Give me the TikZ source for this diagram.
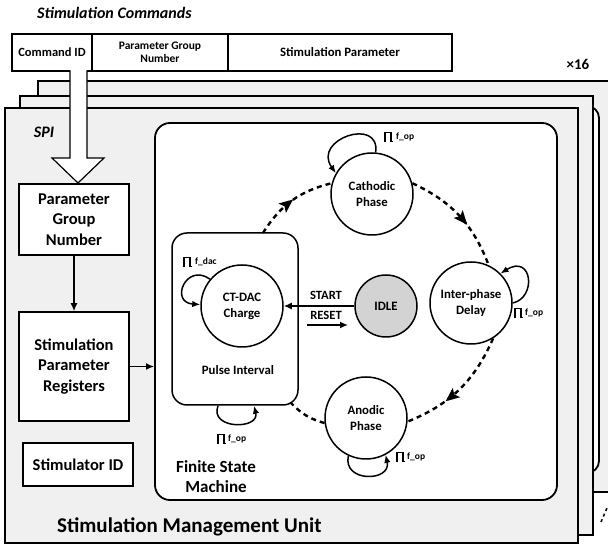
\documentclass[tikz,border=0pt]{standalone}
\usepackage{fontspec}
\setmainfont{Carlito}
\usetikzlibrary{arrows.meta,decorations.markings,calc}
\definecolor{lgray}{HTML}{F0F0F0}
\definecolor{idlegray}{HTML}{D3D3D3}
\tikzset{
  layer/.style={draw, line width=2.2pt, fill=lgray},
  cellbox/.style={draw, line width=1.5pt, fill=white, inner sep=0pt, align=center},
  regbox/.style={draw, line width=1.5pt, fill=white, inner sep=0pt, align=center, font=\fontsize{16.5}{20.5}\selectfont\bfseries},
  state/.style={circle, draw, line width=1.5pt, fill=white, minimum size=82pt, inner sep=0pt, align=center, font=\fontsize{12.8}{16}\selectfont\bfseries},
  dashflow/.style={line width=2.4pt, dash pattern=on 5pt off 4pt},
  midarrow/.style={postaction={decorate}, decoration={markings, mark=at position #1 with {\fill[solid] (6,0) -- (-8,6) -- (-5,0) -- (-8,-6) -- cycle;}}},
  solidarrow/.style={line width=1.5pt, -{Latex[length=8pt,width=7pt]}},
  loopline/.style={line width=1.5pt, -{Latex[length=8pt,width=6.5pt]}},
  small/.style={font=\fontsize{9.5}{11}\selectfont\bfseries, inner sep=0pt, anchor=west},
  pulsesig/.pic={\draw[line width=1.1pt, line join=miter] (-4.5,-4.5) -- (-3,-4.5) -- (-3,4.5) -- (3,4.5) -- (3,-4.5) -- (4.5,-4.5);}
}
\begin{document}
\begin{tikzpicture}[x=1pt,y=1pt]
\useasboundingbox (0,0) rectangle (608,546);
\clip (0,0) rectangle (608,546);
\fill[white] (0,0) rectangle (608,546);

% stacked layers
\draw[layer] (38,54) rectangle (630,465);
\draw[line width=1.8pt, fill=white, rounded corners=12pt] (300,73) rectangle (599,440);
\draw[line width=1.5pt, dash pattern=on 3pt off 3pt] (601,24) -- (607,38);
\draw[layer] (20,11) rectangle (593,450);
\draw[layer] (5,3) rectangle (578,438);

% header
\node[anchor=west, inner sep=0pt, font=\fontsize{16}{18}\selectfont\bfseries\itshape] (title) at (37,533) {Stimulation Commands};
\node[cellbox, minimum width=80pt, minimum height=37pt, font=\fontsize{12.5}{14}\selectfont\bfseries] (cmd) at (52,493.5) {Command ID};
\node[cellbox, minimum width=136pt, minimum height=37pt, font=\fontsize{11.5}{13}\selectfont\bfseries] (pgn) at (160,493.5) {Parameter Group\\Number};
\node[cellbox, minimum width=224pt, minimum height=37pt, font=\fontsize{12.8}{14}\selectfont\bfseries] (spar) at (340,493.5) {Stimulation Parameter};
\node[inner sep=0pt, font=\fontsize{15}{17}\selectfont\bfseries] (x16) at (578,482) {×16};

% big hollow arrow
\fill[white] (70,476) -- (70,388) -- (52,388) -- (78,363) -- (104,388) -- (87,388) -- (87,476) -- cycle;
\draw[line width=1.2pt, line join=miter] (70,475.5) -- (70,388) -- (52,388) -- (78,363) -- (104,388) -- (87,388) -- (87,475.5);

\node[inner sep=0pt, font=\fontsize{16}{18}\selectfont\bfseries\itshape] (spi) at (44,414) {SPI};

% left boxes
\node[regbox, minimum width=110pt, minimum height=71pt] (pgbox) at (74,326.5) {Parameter\\Group\\Number};
\node[regbox, minimum width=110pt, minimum height=109pt] (spr) at (74,179.5) {Stimulation\\Parameter\\Registers};
\node[regbox, minimum width=110pt, minimum height=43pt] (sid) at (78,81.5) {Stimulator ID};
\node[anchor=west, inner sep=0pt, font=\fontsize{21}{24}\selectfont\bfseries] (smu) at (57,19) {Stimulation Management Unit};

% FSM container
\node[draw, rounded corners=15pt, line width=1.8pt, fill=white, minimum width=402pt, minimum height=377pt, inner sep=0pt] (fsm) at (356,234.5) {};
\node[inner sep=0pt, align=center, font=\fontsize{17}{20}\selectfont\bfseries] (fsmlabel) at (216,69) {Finite State\\Machine};

\draw[solidarrow] (pgbox.south) -- (spr.north);
\draw[solidarrow] (spr.east) -- (spr.east -| fsm.west);

% pulse interval box
\node[draw, rounded corners=15pt, line width=1.5pt, fill=white, minimum width=126pt, minimum height=172pt, inner sep=0pt] (pbox) at (235,227) {};
\node[inner sep=0pt, font=\fontsize{12.8}{15}\selectfont\bfseries] (pint) at (238,176) {Pulse Interval};

% states
\node[state] (ct) at (242,240) {CT-DAC\\Charge};
\node[state, minimum size=62pt, fill=idlegray] (idle) at (386,240) {IDLE};
\node[state] (cath) at (372,352) {Cathodic\\Phase};
\node[state] (inter) at (471,243) {Inter-phase\\Delay};
\node[state] (anod) at (366,128) {Anodic\\Phase};

% start / reset
\node[inner sep=0pt, font=\fontsize{12.6}{14}\selectfont\bfseries] (start) at (326,251) {START};
\node[inner sep=0pt, font=\fontsize{12.6}{14}\selectfont\bfseries] (reset) at (326,231) {RESET};
\draw[solidarrow] (idle.west) -- (ct.east);
\coordinate (r1) at (307,221);
\coordinate (r2) at (348,221);
\draw[solidarrow] (r1) -- (r2);

% dashed cycle
\coordinate (p1) at (263,313);
\coordinate (p4) at (291,143);
\draw[dashflow, midarrow=0.45] (p1) to[bend left=22] (cath.165);
\draw[dashflow, midarrow=0.55] (cath.15) to[bend left=22] (inter.65);
\draw[dashflow, midarrow=0.6] (inter.-58) to[bend left=22] (anod.-5);
\draw[dashflow] (anod.187) to[bend left=15] (p4);

% self loops
\draw[loopline] (cath.85) .. controls +(5,36) and +(-24,34) .. (cath.150);
\draw[loopline] (inter.0) .. controls +(24,5) and +(32,20) .. (inter.45);
\draw[loopline] (anod.-115) .. controls +(-6,-27) and +(6,-27) .. (anod.-62);
\draw[loopline] ([xshift=-17pt]pbox.south) .. controls +(-9,-24) and +(6,-24) .. ([xshift=19pt]pbox.south);
\draw[loopline] (ct.140) .. controls +(-24,17) and +(-31,2) .. (ct.178);

% clock labels
\pic at (388,409) {pulsesig};
\node[small] (lc) at (396,409) {f\_op};
\pic at (518,233) {pulsesig};
\node[small] (li) at (525,233) {f\_op};
\pic at (400,89) {pulsesig};
\node[small] (la) at (407,89) {f\_op};
\pic at (221,107) {pulsesig};
\node[small] (lp) at (228,107) {f\_op};
\pic at (187,284) {pulsesig};
\node[small] (ld) at (195,284) {f\_dac};
\end{tikzpicture}
\end{document}
